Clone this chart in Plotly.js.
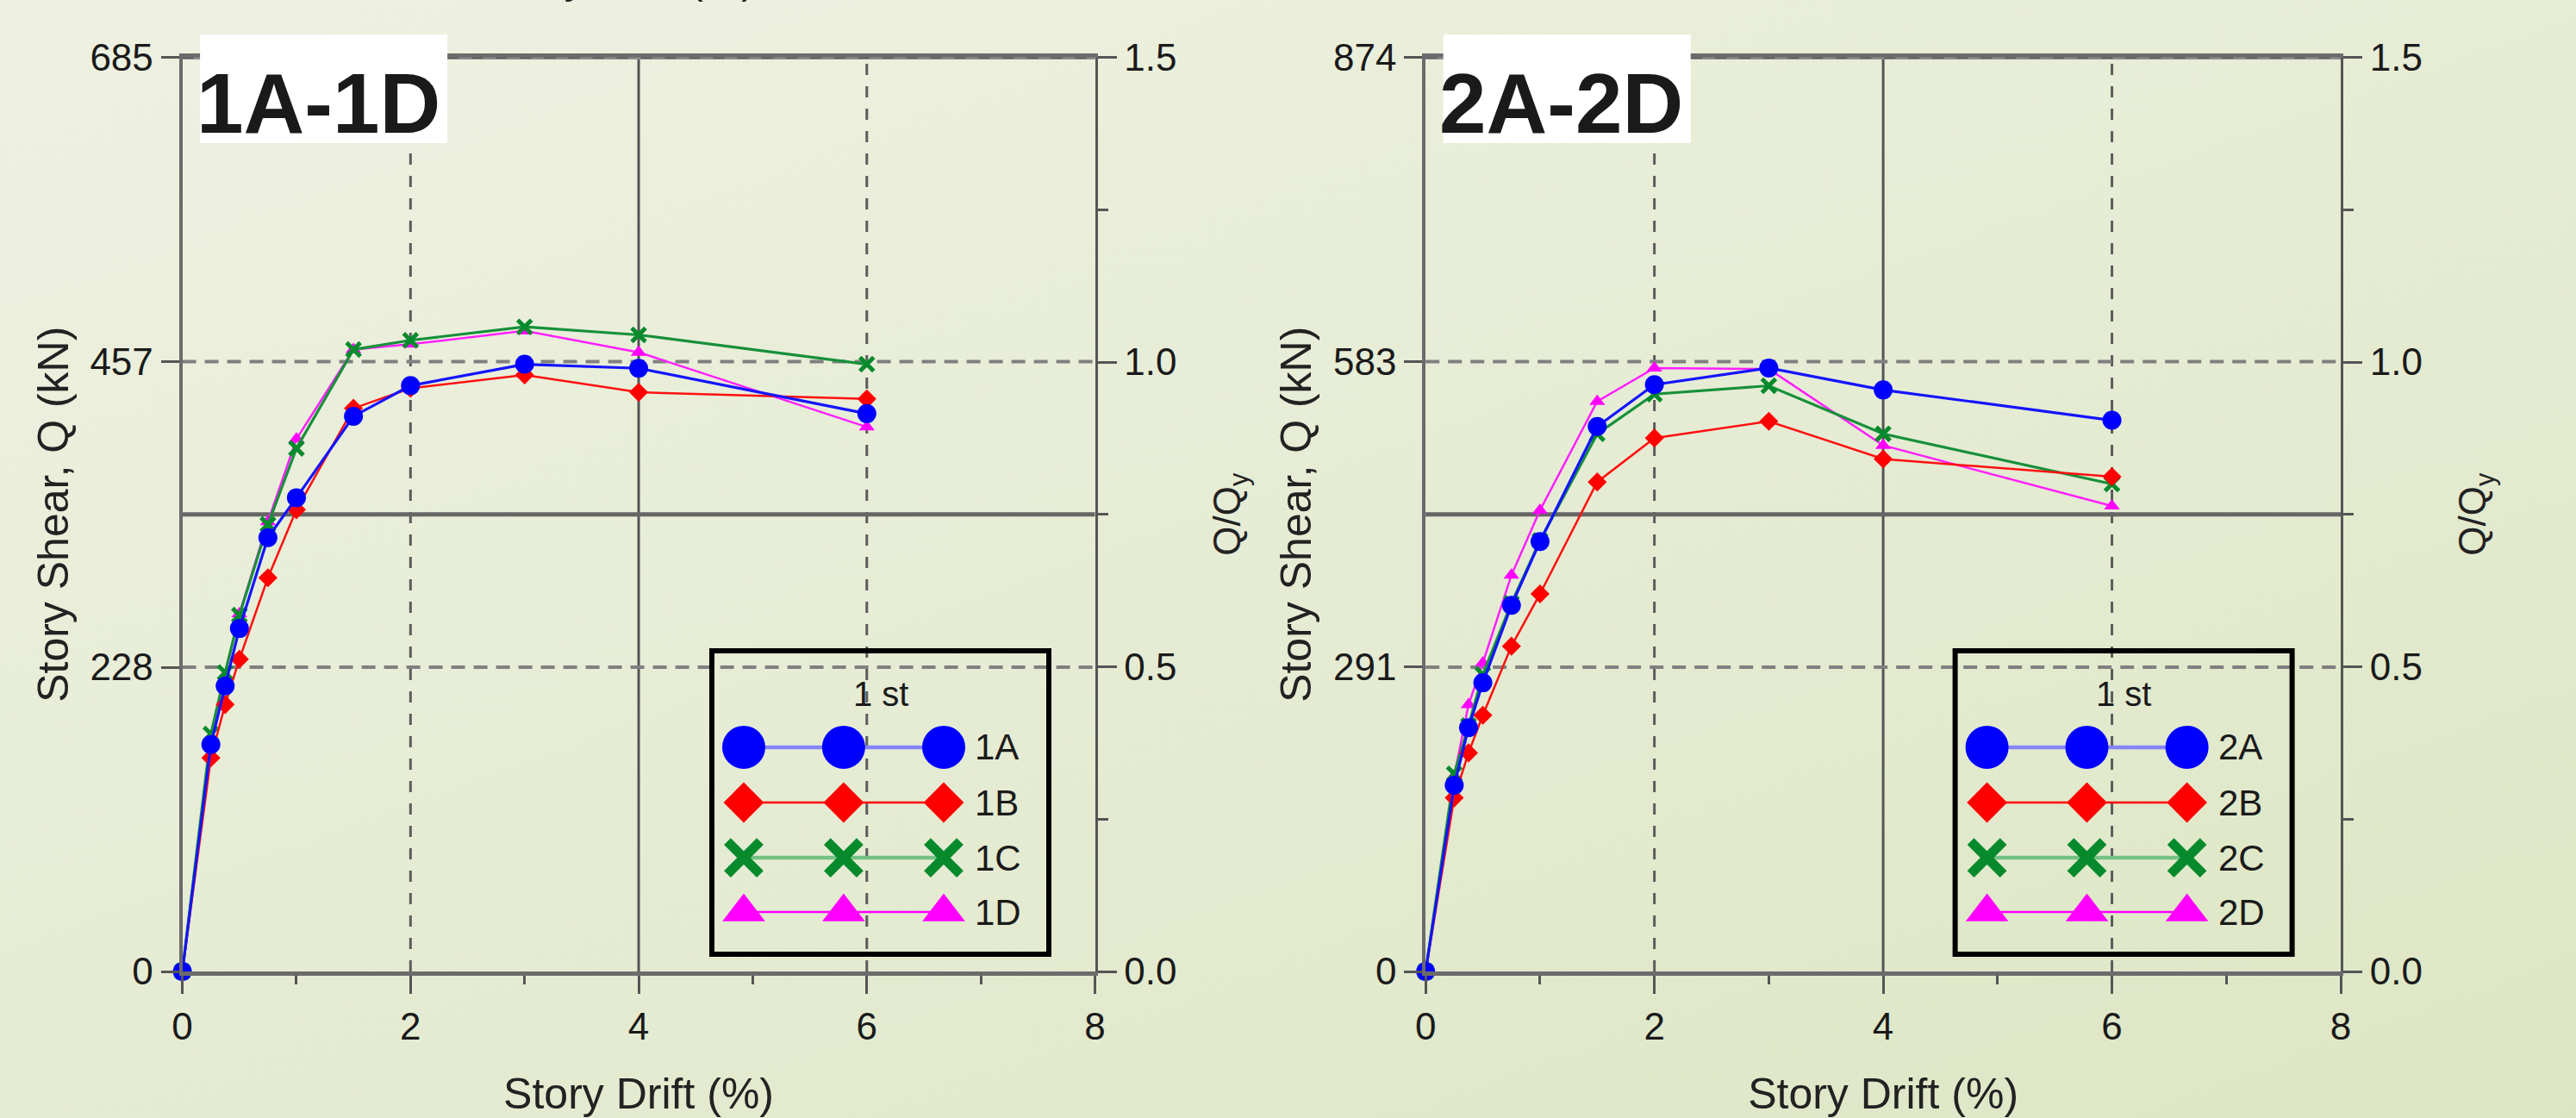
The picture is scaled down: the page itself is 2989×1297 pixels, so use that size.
<!DOCTYPE html>
<html><head><meta charset="utf-8">
<script src="https://cdn.plot.ly/plotly-3.0.1.min.js"></script>
<style>
html,body{margin:0;padding:0;width:2989px;height:1297px;overflow:hidden;
background:linear-gradient(160deg,#eef1e1 0%,#e6ecd4 50%,#dde6c4 100%);}
#chart{width:2989px;height:1297px;}
</style></head><body><div id="chart"></div>
<script>
// ---------------- data ----------------
const drift = [0, 0.25, 0.375, 0.5, 0.75, 1.0, 1.5, 2, 3, 4, 6];

const s1A = [0, 170, 214, 257, 325, 355, 416, 439, 455, 452, 418];
const s1B = [0, 160, 200, 234, 295, 346, 422, 437, 447, 434, 429];
const s1C = [0, 178, 224, 267, 335, 392, 466, 473, 483, 477, 455];
const s1D = [0, 172, 222, 268, 337, 399, 466, 470, 480, 464, 408];

const s2A = [0, 178, 233, 276, 350, 411, 521, 561, 577, 556, 527];
const s2B = [0, 166, 209, 245, 311, 361, 468, 510, 526, 490, 473];
const s2C = [0, 189, 235, 284, 352, 412, 514, 552, 560, 514, 466];
const s2D = [0, 187, 255, 295, 379, 441, 545, 577, 576, 503, 445];

const names1 = ['1A', '1B', '1C', '1D'];
const names2 = ['2A', '2B', '2C', '2D'];
const panelLabels = ['1A-1D', '2A-2D'];
const qTicks1 = [0, 228, 457, 685];
const qTicks2 = [0, 291, 583, 874];
const ratioTicks = [0, 0.5, 1.0, 1.5];
const ratioMinor = [0.25, 0.75, 1.25];
const xTicks = [0, 2, 4, 6, 8];
const xMinor = [1, 3, 5, 7];
const legendTitle = '1 st';
const xTitle = 'Story Drift (%)';
const yTitle = 'Story Shear, Q (kN)';
const y2Title = 'Q/Q<sub>y</sub>';

// ---------------- layout helpers ----------------
const W = 2989, H = 1297;
const FONT = 'Liberation Sans, Arial, Helvetica, sans-serif';
const px = v => v / W;
const py = v => 1 - v / H;
const plotTop = 66.5, plotBot = 1127;

const styles = [
  {color:'#0000ff', line:'#1414ff', lw:3.2, symbol:'circle', size:22, mlw:0,
   legSize:50, legLine:'#8585ff', legLw:4.5, legMlw:0},
  {color:'#ff0000', line:'#ff1010', lw:2.5, symbol:'diamond', size:17, mlw:0,
   legSize:36, legLine:'#ff0000', legLw:2.5, legMlw:0},
  {color:'#078a2c', line:'#17903a', lw:3.2, symbol:'x-thin', size:16, mlw:5,
   legSize:38, legLine:'#74c283', legLw:4.5, legMlw:11},
  {color:'#ff00ff', line:'#ff20ff', lw:2.5, symbol:'triangle-up', size:16, mlw:0,
   legSize:43, legLine:'#ff00ff', legLw:2.5, legMlw:0}
];

const panels = [
  {L:211.6, R:1270.5, series:[s1A, s1B, s1C, s1D], names:names1, qTicks:qTicks1,
   xa:'x', ya:'y', ya2:'y2', lx:'x3', ly:'y5', label:panelLabels[0]},
  {L:1654.2, R:2716, series:[s2A, s2B, s2C, s2D], names:names2, qTicks:qTicks2,
   xa:'x2', ya:'y3', ya2:'y4', lx:'x4', ly:'y6', label:panelLabels[1]}
];

const axName = id => id.replace(/^x/, 'xaxis').replace(/^y/, 'yaxis');

const data = [];
const layout = {
  width: W, height: H,
  margin: {l:0, r:0, t:0, b:0},
  paper_bgcolor: 'rgba(0,0,0,0)',
  plot_bgcolor: 'rgba(0,0,0,0)',
  showlegend: false,
  font: {family: FONT, color: '#1a1a1a'},
  shapes: [], annotations: []
};

const legXs = [0.0946, 0.391, 0.688];
const legRows = [0.682, 0.5, 0.318, 0.139];

panels.forEach((p, pi) => {
  const qMax = p.qTicks[p.qTicks.length - 1];
  const tickStyle = {ticks:'outside', tickwidth:3, tickcolor:'#555'};

  layout[axName(p.xa)] = Object.assign({
    domain:[px(p.L), px(p.R)], range:[0, 8], anchor:p.ya,
    tickmode:'array', tickvals:xTicks, ticklen:21,
    minor:{tickmode:'array', tickvals:xMinor, ticks:'outside', ticklen:10, tickwidth:3, tickcolor:'#555', showgrid:false},
    showgrid:false, zeroline:false, showline:true, mirror:true,
    linecolor:'#6b6b6b', linewidth:5,
    tickfont:{size:44, color:'#1a1a1a', family:FONT},
    title:{text:xTitle, font:{size:50, color:'#222', family:FONT}, standoff:40},
    fixedrange:true
  }, tickStyle);

  layout[axName(p.ya)] = Object.assign({
    domain:[py(plotBot), py(plotTop)], range:[0, qMax], anchor:p.xa,
    tickmode:'array', tickvals:p.qTicks, ticklen:21,
    showgrid:false, zeroline:false, showline:true, linecolor:'#6b6b6b', linewidth:4,
    tickfont:{size:44, color:'#1a1a1a', family:FONT},
    title:{text:yTitle, font:{size:50, color:'#222', family:FONT}, standoff:10},
    fixedrange:true
  }, tickStyle);

  layout[axName(p.ya2)] = Object.assign({
    overlaying:p.ya, side:'right', anchor:p.xa, range:[0, 1.5],
    tickmode:'array', tickvals:ratioTicks, tickformat:'.1f', ticklen:22,
    minor:{tickmode:'array', tickvals:ratioMinor, ticks:'outside', ticklen:12, tickwidth:3, tickcolor:'#555', showgrid:false},
    showgrid:false, zeroline:false, showline:true, linecolor:'#555', linewidth:3,
    tickfont:{size:44, color:'#1a1a1a', family:FONT},
    title:{text:y2Title, font:{size:44, color:'#222', family:FONT}, standoff:44},
    fixedrange:true
  }, tickStyle);

  // legend axes (box interior, stroke centre)
  const lx0 = p.L + 614.4, lx1 = p.L + 1005.4;
  layout[axName(p.lx)] = {domain:[px(lx0), px(lx1)], range:[0,1], visible:false, anchor:p.ly, fixedrange:true};
  layout[axName(p.ly)] = {domain:[py(1107), py(755)], range:[0,1], visible:false, anchor:p.lx, fixedrange:true};

  // grid lines
  xTicks.slice(1, -1).forEach(xv => {
    const solid = xv === 4;
    layout.shapes.push({type:'line', layer:'below', xref:p.xa, yref:p.ya + ' domain',
      x0:xv, x1:xv, y0:0, y1:1,
      line:{color: solid ? '#555' : '#5c5c5c', width:3, dash: solid ? 'solid' : '13px,13px'}});
  });
  p.qTicks.slice(1, -1).forEach(qv => {
    layout.shapes.push({type:'line', layer:'below', xref:p.xa + ' domain', yref:p.ya,
      x0:0, x1:1, y0:qv, y1:qv,
      line:{color:'#808080', width:4, dash:'16px,10px'}});
  });
  layout.shapes.push({type:'line', layer:'below', xref:p.xa + ' domain', yref:p.ya,
    x0:0, x1:1, y0:qMax / 2, y1:qMax / 2, line:{color:'#666', width:5}});
  // dashed overlay on top frame line
  layout.shapes.push({type:'line', layer:'above', xref:p.xa + ' domain', yref:p.ya,
    x0:0, x1:1, y0:qMax, y1:qMax, line:{color:'#8c8c8c', width:5}});
  layout.shapes.push({type:'line', layer:'above', xref:p.xa + ' domain', yref:p.ya,
    x0:0, x1:1, y0:qMax, y1:qMax, line:{color:'#5a5a5a', width:3, dash:'13px,15px'}});

  // legend box
  layout.shapes.push({type:'rect', layer:'above', xref:p.lx + ' domain', yref:p.ly + ' domain',
    x0:0, x1:1, y0:0, y1:1, line:{color:'#000', width:6}, fillcolor:'rgba(0,0,0,0)'});

  // panel label box
  layout.shapes.push({type:'rect', layer:'above', xref:'paper', yref:'paper',
    x0:px(p.L + 20.5), x1:px(p.L + 307.5), y0:py(166), y1:py(40),
    line:{width:0}, fillcolor:'#ffffff'});
  layout.annotations.push({xref:'paper', yref:'paper', x:px(p.L + 14), y:py(120),
    xanchor:'left', yanchor:'middle', showarrow:false,
    text:'<b>' + p.label + '</b>', font:{size:98, color:'#1a1a1a', family:FONT}});

  // legend title & labels
  layout.annotations.push({xref:p.lx, yref:p.ly, x:0.501, y:0.858, xanchor:'center', yanchor:'middle',
    showarrow:false, text:legendTitle, font:{size:40, color:'#1a1a1a', family:FONT}});
  p.names.forEach((nm, i) => {
    layout.annotations.push({xref:p.lx, yref:p.ly, x:0.776, y:legRows[i], xanchor:'left', yanchor:'middle',
      showarrow:false, text:nm, font:{size:42, color:'#1a1a1a', family:FONT}});
  });

  // data traces (drawn D, C, B, A so that A ends on top)
  [3, 2, 1, 0].forEach(i => {
    const st = styles[i];
    data.push({type:'scatter', mode:'lines+markers', name:p.names[i],
      x:drift, y:p.series[i], xaxis:p.xa, yaxis:p.ya, cliponaxis:false,
      line:{color:st.line, width:st.lw},
      marker:{symbol:st.symbol, size:st.size, color:st.color,
        line:{color:st.color, width:st.mlw}},
      hoverinfo:'x+y+name'});
  });
  // keep the right-hand ratio axis alive
  data.push({type:'scatter', mode:'markers', x:[null], y:[null], xaxis:p.xa, yaxis:p.ya2,
    hoverinfo:'skip', showlegend:false});

  // legend samples
  [0, 1, 2, 3].forEach(i => {
    const st = styles[i];
    data.push({type:'scatter', mode:'lines+markers', x:legXs, y:legXs.map(() => legRows[i]),
      xaxis:p.lx, yaxis:p.ly, cliponaxis:false, hoverinfo:'skip',
      line:{color:st.legLine, width:st.legLw},
      marker:{symbol:st.symbol, size:st.legSize, color:st.color,
        line:{color:st.color, width:st.legMlw}}});
  });
});

// cut-off axis title of the chart above (visible only at the very top)
layout.annotations.push({xref:'paper', yref:'paper', x:px(720), y:1, xanchor:'center', yanchor:'middle',
  yshift:25, showarrow:false, text:xTitle, font:{size:50, color:'#222', family:FONT}});

Plotly.newPlot('chart', data, layout, {displayModeBar:false, staticPlot:true});
</script></body></html>
